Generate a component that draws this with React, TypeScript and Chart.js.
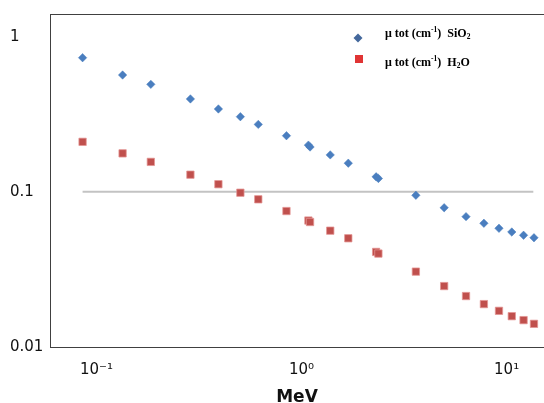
import React, { useEffect, useRef } from "react";
import { Chart, registerables } from "chart.js";

Chart.register(...registerables);

// Photon energy (MeV), read against the picture's axis labels
const energyMeV = [0.0855, 0.134, 0.184, 0.287, 0.393, 0.503, 0.615, 0.844, 1.08, 1.1, 1.38, 1.69, 2.31, 2.37, 3.61, 4.96, 6.34, 7.75, 9.18, 10.6, 12.1, 13.6];
// μ tot (cm-1) SiO2
const muSiO2 = [0.732, 0.566, 0.493, 0.397, 0.342, 0.305, 0.272, 0.23, 0.2, 0.1945, 0.173, 0.153, 0.125, 0.122, 0.095, 0.079, 0.0692, 0.0627, 0.0582, 0.0551, 0.0525, 0.0506];
// μ tot (cm-1) H2O
const muH2O = [0.21, 0.177, 0.156, 0.129, 0.112, 0.0987, 0.0895, 0.0752, 0.0653, 0.0639, 0.0562, 0.0502, 0.041, 0.04, 0.0306, 0.0247, 0.0213, 0.0189, 0.0171, 0.0158, 0.0149, 0.0141];
// horizontal reference line
const refLineX = [0.0855, 13.5];
const refLineY = [0.1, 0.1];

const xTickValues = [0.1, 1, 10];
const xTickLabels = ["10\u207B\u00B9", "10\u2070", "10\u00B9"];
const yTickValues = [0.01, 0.1, 1];
const yTickLabels = ["0.01", "0.1", "1"];
const xTitle = "MeV";

const seriesNames = ["\u03BC tot (cm-1) SiO2", "\u03BC tot (cm-1) H2O"];
// legend text pieces: [text, 0 normal | 1 superscript | -1 subscript]
const legendSiO2: [string, number][] = [["\u03BC tot (cm", 0], ["-1", 1], [")  SiO", 0], ["2", -1]];
const legendH2O: [string, number][] = [["\u03BC tot (cm", 0], ["-1", 1], [")  H", 0], ["2", -1], ["O", 0]];

const frameColor = "#404040";

const framePlugin = {
  id: "frameTop",
  afterDraw(chart: any) {
    const { ctx, chartArea } = chart;
    ctx.save();
    ctx.strokeStyle = frameColor;
    ctx.lineWidth = 1;
    ctx.beginPath();
    ctx.moveTo(chartArea.left, Math.round(chartArea.top) + 0.5);
    ctx.lineTo(chartArea.right, Math.round(chartArea.top) + 0.5);
    ctx.stroke();
    ctx.restore();
  },
};

const legendPlugin = {
  id: "insideLegend",
  afterDraw(chart: any) {
    const { ctx, chartArea } = chart;
    const rows = [
      { segs: legendSiO2, marker: "diamond", color: "#44689C", mx: -186, my: 24, tx: -159, ty: 20 },
      { segs: legendH2O, marker: "square", color: "#E03434", mx: -185, my: 45, tx: -159, ty: 48.5 },
    ];
    ctx.save();
    for (const r of rows) {
      const cx = chartArea.right + r.mx;
      const cy = chartArea.top + r.my;
      ctx.fillStyle = r.color;
      ctx.beginPath();
      if (r.marker === "diamond") {
        ctx.moveTo(cx - 4.5, cy);
        ctx.lineTo(cx, cy - 4.5);
        ctx.lineTo(cx + 4.5, cy);
        ctx.lineTo(cx, cy + 4.5);
        ctx.closePath();
      } else {
        ctx.rect(cx - 4, cy - 4, 8, 8);
      }
      ctx.fill();

      let x = chartArea.right + r.tx;
      const y = chartArea.top + r.ty;
      ctx.fillStyle = "#000";
      ctx.textBaseline = "middle";
      ctx.textAlign = "left";
      for (const [t, kind] of r.segs) {
        ctx.font = kind === 0 ? 'bold 12px "Liberation Serif"' : 'bold 7.5px "Liberation Serif"';
        const dy = kind === 1 ? -3.5 : kind === -1 ? 3.5 : 0;
        ctx.fillText(t, x, y + dy);
        x += ctx.measureText(t).width;
      }
    }
    ctx.restore();
  },
};

export default function App() {
  const ref = useRef<HTMLCanvasElement>(null);

  useEffect(() => {
    const canvas = ref.current;
    if (!canvas) return;
    const chart = new Chart(canvas, {
      type: "scatter",
      data: {
        datasets: [
          {
            label: seriesNames[0],
            data: energyMeV.map((x, i) => ({ x, y: muSiO2[i] })),
            pointStyle: "rectRot",
            pointRadius: 4.2,
            backgroundColor: "#4A7EBF",
            borderColor: "#4A7EBF",
            borderWidth: 0.5,
            showLine: false,
          },
          {
            label: seriesNames[1],
            data: energyMeV.map((x, i) => ({ x, y: muH2O[i] })),
            pointStyle: "rect",
            pointRadius: 5.2,
            backgroundColor: "#C0504D",
            borderColor: "rgba(228,150,148,0.75)",
            borderWidth: 1,
            showLine: false,
          },
          {
            type: "line",
            label: "ref",
            data: refLineX.map((x, i) => ({ x, y: refLineY[i] })),
            borderColor: "#C3C3C3",
            borderWidth: 2,
            pointRadius: 0,
            showLine: true,
            fill: false,
          } as any,
        ],
      },
      options: {
        responsive: false,
        devicePixelRatio: 1,
        animation: false,
        events: [],
        layout: { autoPadding: false, padding: { left: 10, top: 14, right: 0, bottom: 0 } },
        plugins: {
          legend: { display: false },
          tooltip: { enabled: false },
        },
        scales: {
          x: {
            type: "logarithmic",
            min: 0.0593,
            max: 15.22,
            bounds: "data",
            grid: { display: false, drawTicks: false },
            border: { display: true, color: frameColor, width: 1 },
            afterBuildTicks: (scale: any) => {
              scale.ticks = xTickValues.map((v) => ({ value: v }));
            },
            afterFit: (scale: any) => {
              scale.height = 56;
              scale.paddingLeft = 0;
              scale.paddingRight = 0;
            },
            ticks: {
              autoSkip: false,
              maxRotation: 0,
              padding: 14,
              color: "#111",
              font: { family: "DejaVu Sans", size: 15 },
              callback: (v: any) => {
                const i = xTickValues.indexOf(Number(v));
                return i >= 0 ? xTickLabels[i] : "";
              },
            },
            title: {
              display: true,
              text: xTitle,
              color: "#111",
              font: { family: "DejaVu Sans", size: 17, weight: "bold", lineHeight: 0.65 },
              padding: { top: 0, bottom: 0 },
            },
          },
          y: {
            type: "logarithmic",
            min: 0.01,
            max: 1.4,
            bounds: "data",
            grid: { display: false, drawTicks: false },
            border: { display: true, color: frameColor, width: 1 },
            afterBuildTicks: (scale: any) => {
              scale.ticks = yTickValues.map((v) => ({ value: v }));
            },
            afterFit: (scale: any) => {
              scale.width = 40;
              scale.paddingTop = 0;
              scale.paddingBottom = 0;
            },
            ticks: {
              autoSkip: false,
              crossAlign: "far",
              padding: 0,
              color: "#111",
              font: { family: "DejaVu Sans", size: 15 },
              callback: (v: any) => {
                const i = yTickValues.indexOf(Number(v));
                return i >= 0 ? yTickLabels[i] : "";
              },
            },
          },
        },
      },
      plugins: [framePlugin, legendPlugin],
    });
    return () => chart.destroy();
  }, []);

  return (
    <div style={{ position: "fixed", left: 0, top: 0, width: 544, height: 403, background: "#fff" }}>
      <canvas ref={ref} width={544} height={403} style={{ display: "block", width: 544, height: 403 }} />
    </div>
  );
}
